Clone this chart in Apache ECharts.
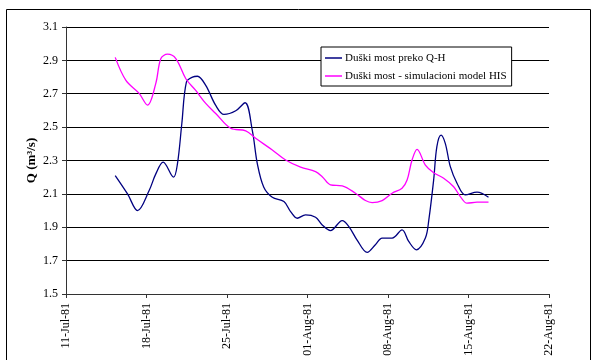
<!DOCTYPE html>
<html>
<head>
<meta charset="utf-8">
<script src="https://cdn.jsdelivr.net/npm/echarts@6/dist/echarts.min.js"></script>
<style>
  html, body { margin: 0; padding: 0; background: #fff; }
  #chart { width: 597px; height: 360px; }
</style>
</head>
<body>
<div id="chart"></div>
<script>
// x = days counted from 11-Jul-81
const tickLabels = ['11-Jul-81', '18-Jul-81', '25-Jul-81', '01-Aug-81', '08-Aug-81', '15-Aug-81', '22-Aug-81'];
const yTicks = [1.5, 1.7, 1.9, 2.1, 2.3, 2.5, 2.7, 2.9, 3.1];

const qhName = 'Duški most preko Q-H';
const qhDays = [4.28, 5.35, 6.22, 7.23, 7.81, 8.45, 9.35, 9.69, 10.07, 10.47, 11.0, 11.43, 12.15, 13.02, 13.74, 14.76, 15.57, 16.2, 16.64, 17.2, 17.94, 18.95, 19.53, 20.11, 20.83, 21.7, 22.28, 23.0, 24.02, 24.6, 25.3, 26.19, 26.9, 27.49, 28.36, 29.22, 29.8, 30.47, 31.25, 31.55, 31.97, 32.25, 32.61, 32.98, 33.42, 34.0, 34.72, 35.74, 36.74];
const qhValues = [2.21, 2.10, 2.00, 2.12, 2.22, 2.29, 2.20, 2.28, 2.52, 2.77, 2.80, 2.805, 2.75, 2.63, 2.576, 2.598, 2.646, 2.48, 2.28, 2.14, 2.08, 2.054, 1.994, 1.954, 1.974, 1.96, 1.914, 1.88, 1.94, 1.904, 1.825, 1.749, 1.795, 1.835, 1.835, 1.884, 1.815, 1.765, 1.835, 1.944, 2.183, 2.383, 2.452, 2.403, 2.263, 2.164, 2.094, 2.11, 2.08];

const hisName = 'Duški most - simulacioni model HIS';
const hisDays = [4.28, 5.21, 6.36, 7.09, 7.81, 8.25, 8.83, 9.55, 10.42, 11.28, 12.15, 13.02, 14.32, 15.63, 16.49, 17.94, 19.1, 20.4, 21.7, 22.28, 23.0, 24.02, 25.17, 26.04, 26.62, 27.49, 28.36, 29.22, 29.66, 30.09, 30.53, 31.25, 31.97, 32.84, 33.71, 34.29, 34.87, 35.74, 36.74];
const hisValues = [2.918, 2.78, 2.702, 2.632, 2.762, 2.911, 2.937, 2.911, 2.79, 2.72, 2.642, 2.582, 2.493, 2.478, 2.433, 2.363, 2.303, 2.26, 2.233, 2.203, 2.154, 2.148, 2.104, 2.06, 2.048, 2.06, 2.104, 2.134, 2.183, 2.303, 2.367, 2.273, 2.227, 2.194, 2.143, 2.084, 2.044, 2.05, 2.05];

const pairs = (xs, ys) => xs.map((x, i) => [x, ys[i]]);
const font = 'Liberation Serif';

const chart = echarts.init(document.getElementById('chart'));
chart.setOption({
  animation: false,
  backgroundColor: '#fff',
  textStyle: { fontFamily: font, color: '#000' },
  graphic: [{
    type: 'rect',
    shape: { x: 6.5, y: 9.5, width: 584, height: 360 },
    style: { fill: 'none', stroke: '#000', lineWidth: 1 },
    silent: true
  }],
  grid: { left: 66, right: 48, top: 27, bottom: 66 },
  legend: {
    orient: 'vertical',
    left: 321,
    top: 47,
    padding: [5, 5, 4, 4],
    itemGap: 6,
    itemWidth: 17,
    itemHeight: 1.5,
    icon: 'rect',
    backgroundColor: '#fff',
    borderColor: '#000',
    borderWidth: 1,
    borderRadius: 0,
    textStyle: { fontFamily: font, fontSize: 11, color: '#000', lineHeight: 12, padding: [0, 0, 0, -2] },
    data: [qhName, hisName]
  },
  xAxis: {
    type: 'value',
    min: 0,
    max: 42,
    interval: 7,
    axisLine: { show: true, onZero: false, lineStyle: { color: '#333', width: 1 } },
    axisTick: { show: true, length: 4, lineStyle: { color: '#333' } },
    splitLine: { show: false },
    axisLabel: {
      rotate: 90,
      margin: 9,
      fontFamily: font,
      fontSize: 12,
      color: '#000',
      formatter: v => tickLabels[Math.round(v / 7)]
    }
  },
  yAxis: {
    type: 'value',
    min: yTicks[0],
    max: yTicks[yTicks.length - 1],
    interval: 0.2,
    name: 'Q (m³/s)',
    nameLocation: 'middle',
    nameGap: 28,
    nameMoveOverlap: false,
    nameTextStyle: { fontFamily: font, fontSize: 13, fontWeight: 'bold', color: '#000' },
    axisLine: { show: true, lineStyle: { color: '#333', width: 1 } },
    axisTick: { show: true, length: 4, lineStyle: { color: '#333' } },
    splitLine: { show: true, lineStyle: { color: '#000', width: 1 } },
    axisLabel: {
      margin: 8,
      fontFamily: font,
      fontSize: 12,
      color: '#000',
      formatter: v => v.toFixed(1)
    }
  },
  series: [
    {
      name: qhName,
      type: 'line',
      data: pairs(qhDays, qhValues),
      smooth: 0.35,
      symbol: 'none',
      lineStyle: { color: '#000080', width: 1.3 },
      itemStyle: { color: '#000080' }
    },
    {
      name: hisName,
      type: 'line',
      data: pairs(hisDays, hisValues),
      smooth: 0.35,
      symbol: 'none',
      lineStyle: { color: '#ff00ff', width: 1.3 },
      itemStyle: { color: '#ff00ff' }
    }
  ]
});
</script>
</body>
</html>
